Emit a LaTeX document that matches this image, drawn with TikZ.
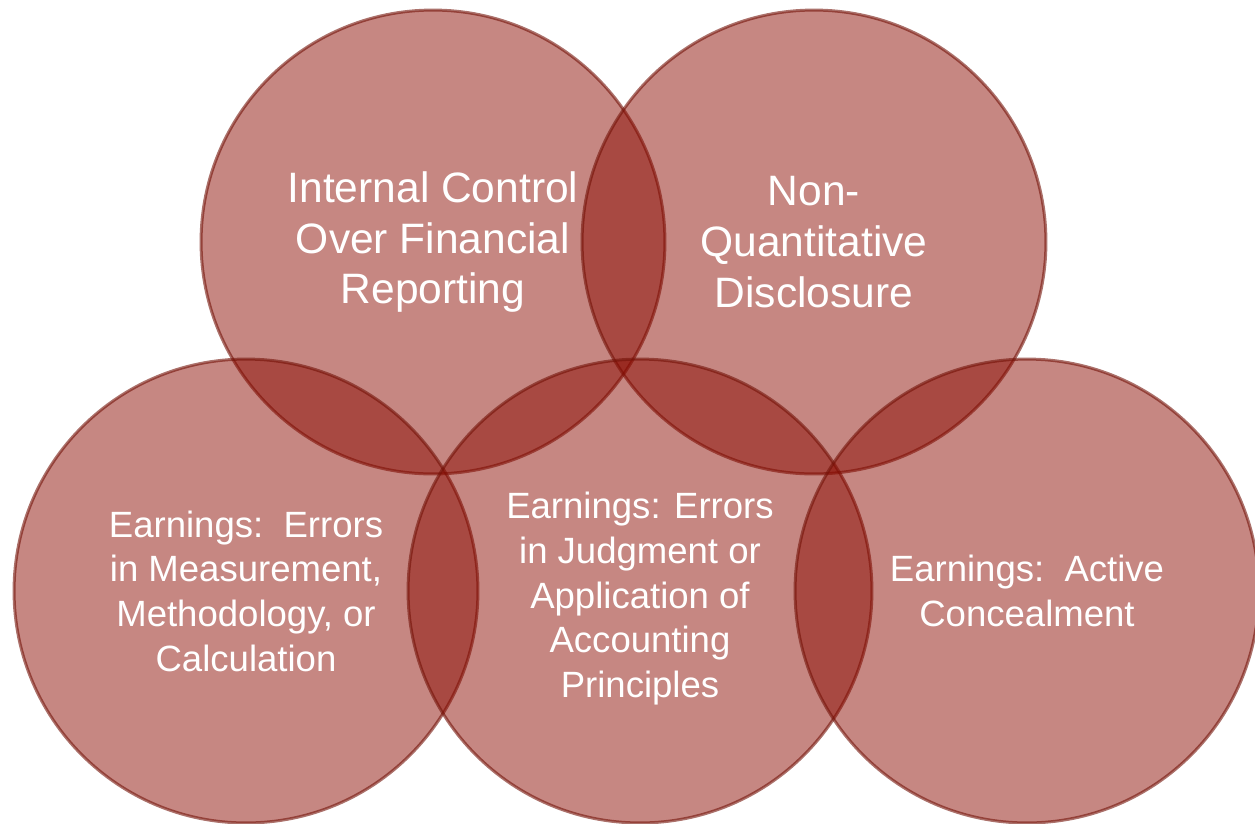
\documentclass[tikz,border=0pt]{standalone}
\usepackage{fontspec}
\setmainfont{Liberation Sans}
\definecolor{vennfill}{RGB}{138,10,0}
\definecolor{vennline}{RGB}{115,18,8}

\begin{document}
\begin{tikzpicture}[x=0.02cm, y=-0.02cm,
	area/.style = {circle, minimum size=9.28cm, inner sep=0pt, align=center,
		fill=vennfill, fill opacity=0.49, draw=vennline, draw opacity=0.6,
		line width=1.7pt, text=white, text opacity=1},
	big/.style = {font=\fontsize{24.2}{29}\selectfont},
	small/.style = {font=\fontsize{20.8}{25.4}\selectfont}]
	\useasboundingbox (0,0) rectangle (1255,823);

	\node[area, big] (icfr) at (433,242) {Internal Control\\Over Financial\\Reporting};
	\node[area, big] (nqd) at (814,242) {Non-\\Quantitative\\Disclosure};
	\node[area, small] (measure) at (246,591) {Earnings:\ \ Errors\\in Measurement,\\Methodology, or\\Calculation};
	\node[area, label={[small, text=white, align=center, yshift=-4.3pt]center:Earnings: Errors\\in Judgment or\\Application of\\Accounting\\Principles}] (judgment) at (640,591) {};
	\node[area, small] (conceal) at (1027,591) {Earnings:\ \ Active\\Concealment};

\end{tikzpicture}
\end{document}
